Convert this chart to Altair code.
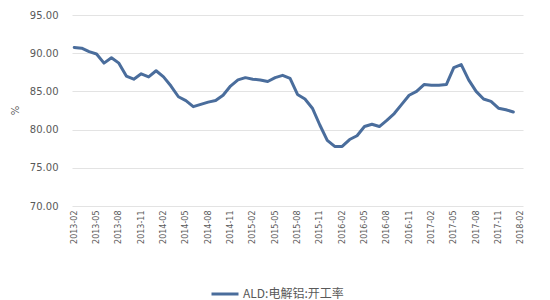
import altair as alt
import pandas as pd

months = [
    "2013-02", "2013-03", "2013-04", "2013-05", "2013-06", "2013-07", "2013-08", "2013-09", "2013-10", "2013-11", "2013-12",
    "2014-01", "2014-02", "2014-03", "2014-04", "2014-05", "2014-06", "2014-07", "2014-08", "2014-09", "2014-10", "2014-11", "2014-12",
    "2015-01", "2015-02", "2015-03", "2015-04", "2015-05", "2015-06", "2015-07", "2015-08", "2015-09", "2015-10", "2015-11", "2015-12",
    "2016-01", "2016-02", "2016-03", "2016-04", "2016-05", "2016-06", "2016-07", "2016-08", "2016-09", "2016-10", "2016-11", "2016-12",
    "2017-01", "2017-02", "2017-03", "2017-04", "2017-05", "2017-06", "2017-07", "2017-08", "2017-09", "2017-10", "2017-11", "2017-12",
    "2018-01",
]
axis_months = months + ["2018-02"]
tick_labels = axis_months[::3]

values = [
    90.75, 90.65, 90.2, 89.9, 88.7, 89.4, 88.7, 87.0, 86.6, 87.3, 86.9,
    87.7, 86.9, 85.7, 84.3, 83.8, 83.0, 83.3, 83.6, 83.8, 84.5, 85.7, 86.5,
    86.8, 86.6, 86.5, 86.3, 86.8, 87.1, 86.7, 84.6, 84.0, 82.8, 80.6, 78.6,
    77.8, 77.8, 78.7, 79.2, 80.4, 80.7, 80.4, 81.2, 82.1, 83.3, 84.5, 85.0,
    85.9, 85.8, 85.8, 85.9, 88.1, 88.5, 86.5, 85.0, 84.0, 83.7, 82.8, 82.6,
    82.3,
]
series_name = "ALD:电解铝:开工率"
line_color = "#4a6d9c"

df = pd.DataFrame({"month": months, "value": values, "series": series_name})

chart = (
    alt.Chart(df)
    .mark_line(strokeWidth=3, strokeJoin="round", strokeCap="round")
    .encode(
        x=alt.X(
            "month:O",
            scale=alt.Scale(type="point", domain=axis_months, padding=0.3),
            axis=alt.Axis(
                title=None,
                values=tick_labels,
                labelAngle=-90,
                labelPadding=4,
                ticks=False,
                domain=False,
                grid=False,
                labelFont="DejaVu Sans",
                labelFontSize=8,
                labelColor="#595959",
            ),
        ),
        y=alt.Y(
            "value:Q",
            scale=alt.Scale(domain=[70, 95], nice=False, zero=False),
            axis=alt.Axis(
                title="%",
                values=[70, 75, 80, 85, 90, 95],
                format=".2f",
                ticks=False,
                domain=False,
                gridColor="#e3e3e3",
                labelPadding=14,
                labelFont="DejaVu Sans",
                labelFontSize=10,
                labelColor="#595959",
                titleFont="DejaVu Sans",
                titleFontSize=10,
                titleFontWeight="normal",
                titleColor="#595959",
                titleX=-52,
                titleY=95,
            ),
        ),
        color=alt.Color(
            "series:N",
            scale=alt.Scale(domain=[series_name], range=[line_color]),
            legend=alt.Legend(
                title=None,
                orient="none",
                legendX=138,
                legendY=264,
                symbolType="stroke",
                symbolSize=729,
                symbolStrokeWidth=3,
                labelFont="Noto Sans CJK SC",
                labelFontSize=12,
                labelColor="#595959",
                labelOffset=3,
            ),
        ),
    )
    .properties(
        width=451,
        height=191,
        autosize=alt.AutoSizeParams(type="none"),
        padding={"left": 72, "top": 15, "right": 27, "bottom": 94},
        background="white",
    )
    .configure_view(stroke=None)
)

chart.save("out.html", embed_options={"renderer": "svg", "actions": False})
